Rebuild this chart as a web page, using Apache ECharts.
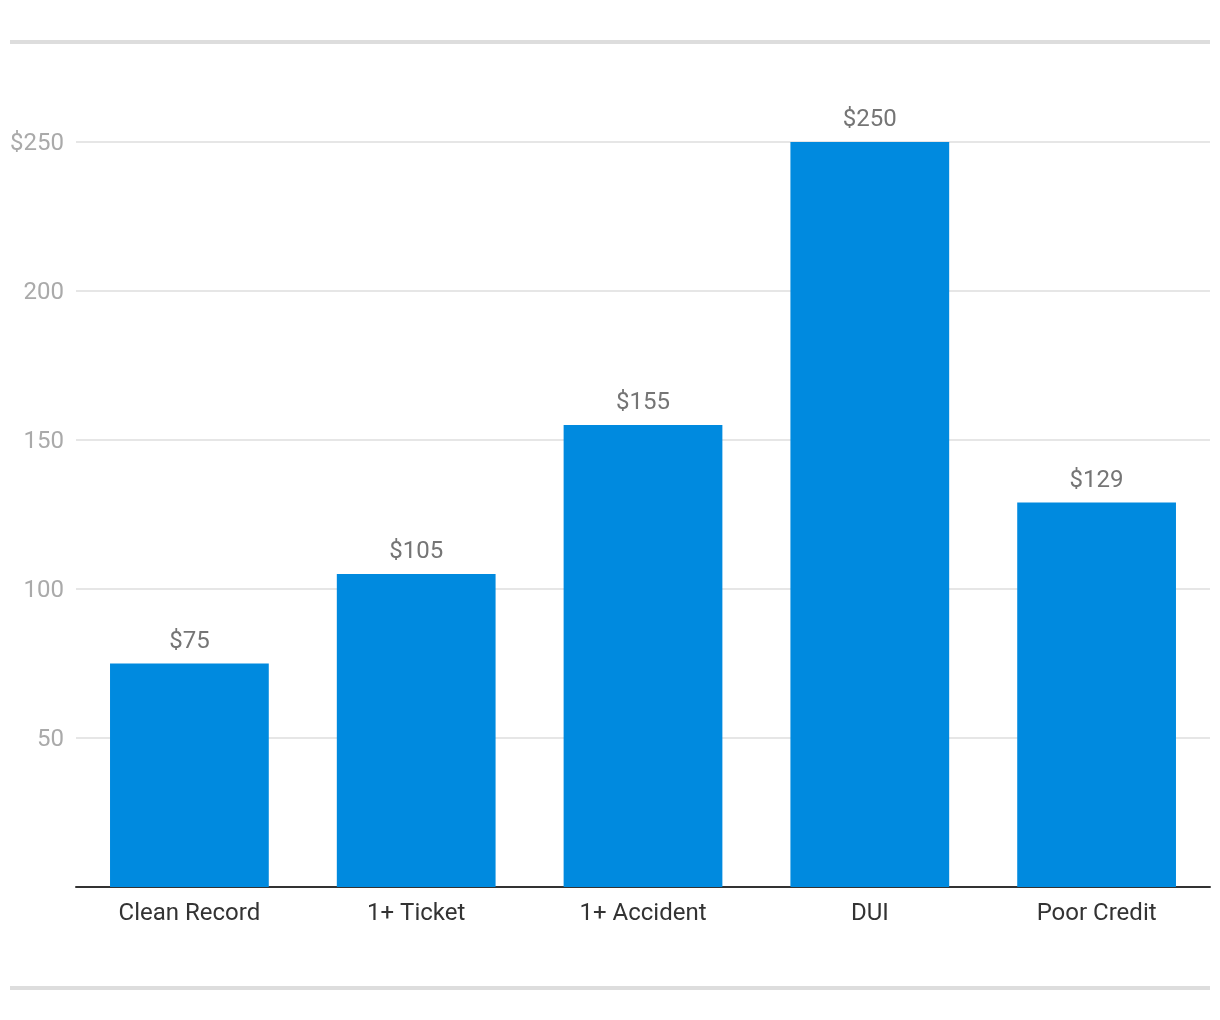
<!DOCTYPE html>
<html>
<head>
<meta charset="utf-8">
<script src="https://cdn.jsdelivr.net/npm/echarts@6/dist/echarts.min.js"></script>
<style>html,body{margin:0;padding:0;background:#fff}#c{width:1220px;height:1020px}</style>
</head>
<body>
<div id="c"></div>
<script>
const categories = ['Clean Record', '1+ Ticket', '1+ Accident', 'DUI', 'Poor Credit'];
const values = [75, 105, 155, 250, 129];
const yTicks = [50, 100, 150, 200, 250];

const chart = echarts.init(document.getElementById('c'), null, {renderer: 'canvas'});
const font = 'Roboto, "Noto Sans", sans-serif';
chart.setOption({
  backgroundColor: '#fff',
  animation: false,
  grid: {left: 76, right: 10, top: 142, bottom: 133, containLabel: false},
  graphic: [
    {type: 'rect', shape: {x: 10, y: 40, width: 1200, height: 4}, style: {fill: '#dddddd'}},
    {type: 'rect', shape: {x: 10, y: 986, width: 1200, height: 4}, style: {fill: '#dddddd'}}
  ],
  xAxis: {
    type: 'category',
    data: categories,
    axisLine: {lineStyle: {color: '#333', width: 2}},
    axisTick: {show: false},
    axisLabel: {color: '#333', fontSize: 24, fontFamily: font, margin: 15}
  },
  yAxis: {
    type: 'value',
    min: 0, max: 250, interval: 50,
    axisLine: {show: false},
    axisTick: {show: false},
    splitLine: {lineStyle: {color: '#e6e6e6', width: 2}},
    axisLabel: {
      color: '#aaaaaa', fontSize: 24, fontFamily: font, margin: 12,
      showMinLabel: false,
      formatter: v => (yTicks.indexOf(v) === -1 ? '' : '{a|' + (v === yTicks[yTicks.length - 1] ? '$' + v : String(v)) + '}'),
      rich: {a: {color: '#aaaaaa', fontSize: 24, fontFamily: font, padding: [4, 0, 0, 0]}}
    }
  },
  series: [{
    type: 'bar',
    data: values,
    barWidth: '70%',
    itemStyle: {color: '#008ADF'},
    label: {
      show: true, position: 'top', distance: 10,
      color: '#757575', fontSize: 24, fontFamily: font,
      formatter: p => '$' + p.value
    }
  }]
});
</script>
</body>
</html>
